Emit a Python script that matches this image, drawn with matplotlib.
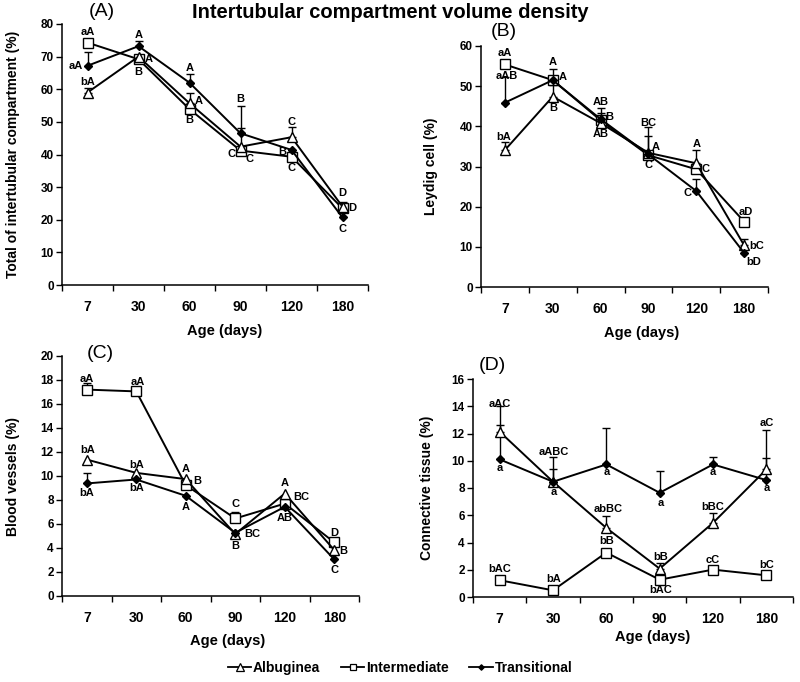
"""Intertubular compartment volume density: four panels, three testis regions."""

import matplotlib
matplotlib.use("Agg")
import matplotlib.pyplot as plt
import numpy as np
from matplotlib.lines import Line2D

plt.rcParams["font.family"] = ["Liberation Sans", "DejaVu Sans"]
plt.rcParams["font.weight"] = "bold"

AGES = ["7", "30", "60", "90", "120", "180"]
SERIES = ["Albuginea", "Intermediate", "Transitional"]

# (A) total of intertubular compartment (%)
A_ALB = [59.0, 70.0, 55.7, 42.4, 45.3, 24.0]
A_INT = [74.3, 69.2, 53.9, 41.2, 39.3, 23.5]
A_TRA = [67.2, 73.2, 62.0, 46.5, 41.4, 20.7]
A_ALB_ERR = [1.5, 0, 3.0, 5.6, 3.0, 1.5]
A_INT_ERR = [0, 0, 0, 0, 0, 0]
A_TRA_ERR = [4.1, 1.5, 2.7, 8.4, 0, 0]
A_LABELS = [
    (0, 77.4, "aA"), (-0.23, 67.2, "aA"), (0, 62.3, "bA"),
    (1, 76.6, "A"), (1.2, 69.2, "A"), (1, 65.4, "B"),
    (2, 66.4, "A"), (2.19, 56.5, "A"), (2, 50.6, "B"),
    (3, 56.9, "B"), (2.82, 40.3, "C"), (3.18, 38.5, "C"),
    (4, 50.1, "C"), (3.82, 40.7, "B"), (4, 35.8, "C"),
    (5, 28.1, "D"), (5.19, 23.5, "D"), (5, 17.1, "C"),
]

# (B) Leydig cell (%)
B_ALB = [34.1, 47.4, 40.8, 33.4, 30.8, 10.4]
B_INT = [55.4, 51.5, 41.5, 32.8, 29.3, 16.3]
B_TRA = [45.9, 51.5, 41.8, 33.0, 23.9, 8.5]
B_ALB_ERR = [2.1, 2.9, 2.6, 4.2, 3.3, 1.6]
B_INT_ERR = [0, 0, 0, 0, 0, 0]
B_TRA_ERR = [6.5, 2.7, 2.7, 6.9, 2.9, 0]
B_LABELS = [
    (0, 58.2, "aA"), (0.03, 52.5, "aAB"), (-0.03, 37.4, "bA"),
    (1, 56.1, "A"), (1.21, 52.2, "A"), (1.01, 44.5, "B"),
    (2, 46.1, "AB"), (2.19, 42.4, "B"), (2, 38.1, "AB"),
    (3, 40.9, "BC"), (3.16, 34.9, "A"), (3, 30.3, "C"),
    (4, 35.7, "A"), (4.2, 29.5, "C"), (3.82, 23.3, "C"),
    (5.03, 18.7, "aD"), (5.26, 10.1, "bC"), (5.21, 6.2, "bD"),
]

# (C) blood vessels (%)
C_ALB = [11.37, 10.26, 9.74, 5.16, 8.54, 3.83]
C_INT = [17.2, 17.05, 9.24, 6.46, 7.7, 4.47]
C_TRA = [9.38, 9.71, 8.35, 5.27, 7.43, 3.05]
C_ALB_ERR = [0, 0, 0, 0, 0, 0]
C_INT_ERR = [0.55, 0, 0, 0.55, 0, 0]
C_TRA_ERR = [0.9, 0, 0, 0, 0, 0]
C_LABELS = [
    (0.01, 18.1, "aA"), (0.01, 12.15, "bA"), (0, 8.6, "bA"),
    (1.04, 17.84, "aA"), (1.01, 10.9, "bA"), (1.0, 9.0, "bA"),
    (2, 10.6, "A"), (2.23, 9.6, "B"), (1.99, 7.43, "A"),
    (3, 7.7, "C"), (3.34, 5.16, "BC"), (3, 4.19, "B"),
    (4, 9.38, "A"), (4.33, 8.27, "BC"), (4, 6.46, "AB"),
    (5, 5.27, "D"), (5.18, 3.74, "B"), (5, 2.16, "C"),
]

# (D) connective tissue (%)
D_ALB = [12.13, 8.46, 5.07, 2.08, 5.44, 9.36]
D_INT = [1.23, 0.49, 3.26, 1.27, 2.01, 1.59]
D_TRA = [10.1, 8.46, 9.73, 7.65, 9.73, 8.58]
D_ALB_ERR = [1.9, 1.8, 0.9, 0.4, 0.75, 2.9]
D_INT_ERR = [0, 0, 0, 0, 0, 0]
D_TRA_ERR = [2.5, 0.95, 2.7, 1.6, 0.55, 1.6]
D_LABELS = [
    (0, 14.2, "aAC"), (0, 9.5, "a"), (0, 2.08, "bAC"),
    (1.01, 10.66, "aABC"), (1.01, 7.72, "a"), (1.01, 1.35, "bA"),
    (2.03, 6.45, "abBC"), (2.01, 9.19, "a"), (2.01, 4.12, "bB"),
    (3.02, 6.91, "a"), (3.02, 2.94, "bB"), (3.02, 0.49, "bAC"),
    (4, 9.19, "a"), (4, 6.57, "bBC"), (4, 2.75, "cC"),
    (5, 12.75, "aC"), (5, 7.97, "a"), (5, 2.33, "bC"),
]

STYLES = {
    "Albuginea": dict(marker="^", markersize=7.5, markerfacecolor="white", zorder=4),
    "Intermediate": dict(marker="s", markersize=7, markerfacecolor="white", zorder=3),
    "Transitional": dict(marker="D", markersize=4, markerfacecolor="black", zorder=5),
}


def draw_panel(ax, values, errs, labels, ymax, ystep, ylabel, tag, tag_xy,
               ylab_x, xlab_pos):
    x = np.arange(len(AGES))
    for name, y, err in zip(SERIES, values, errs):
        err = np.asarray(err, dtype=float)
        keep = err > 0
        if keep.any():
            ax.errorbar(x[keep], np.asarray(y)[keep],
                        yerr=[np.zeros(keep.sum()), err[keep]],
                        fmt="none", ecolor="black", elinewidth=1.0,
                        capsize=2.8, capthick=1.0, zorder=2)
        ax.plot(x, y, color="black", linewidth=1.4, markeredgecolor="black",
                markeredgewidth=1.0, **STYLES[name])

    for lx, ly, text in labels:
        ax.text(lx, ly, text, ha="center", va="center", fontsize=8,
                fontweight="bold", zorder=6)

    ax.set_xlim(-0.5, len(AGES) - 0.5)
    ax.set_ylim(0, ymax)
    ax.set_xticks(x)
    ax.set_xticklabels(AGES, fontsize=10, fontweight="bold")
    ax.set_xticks(np.arange(-0.5, len(AGES), 1.0), minor=True)
    ax.tick_params(axis="x", which="major", length=0, pad=11)
    ax.tick_params(axis="x", which="minor", length=4, width=1.0, direction="out")
    ax.set_yticks(np.arange(0, ymax + ystep / 2, ystep))
    ax.tick_params(axis="y", labelsize=8.5, length=4, width=1.0, pad=2)
    for lab in ax.get_yticklabels():
        lab.set_fontweight("bold")

    for side in ("top", "right"):
        ax.spines[side].set_visible(False)
    for side in ("left", "bottom"):
        ax.spines[side].set_linewidth(1.1)

    ax.set_ylabel(ylabel, fontsize=10, fontweight="bold")
    ax.yaxis.set_label_coords(ylab_x, 0.5)
    ax.set_xlabel("Age (days)", fontsize=10.5, fontweight="bold", va="top")
    ax.xaxis.set_label_coords(*xlab_pos)

    fig = ax.figure
    fig.text(tag_xy[0], tag_xy[1], tag, fontsize=14, fontweight="normal",
             ha="center", va="center")


def main() -> None:
    fig = plt.figure(figsize=(8, 6.82), dpi=100)
    W, H = 800, 682

    def rect(l, r, top, bottom):
        return [l / W, 1 - bottom / H, (r - l) / W, (bottom - top) / H]

    ax_a = fig.add_axes(rect(62, 368, 24, 285))
    ax_b = fig.add_axes(rect(481, 768, 46, 287))
    ax_c = fig.add_axes(rect(62, 359, 356, 596))
    ax_d = fig.add_axes(rect(473, 793, 379, 597))

    draw_panel(ax_a, [A_ALB, A_INT, A_TRA], [A_ALB_ERR, A_INT_ERR, A_TRA_ERR],
               A_LABELS, 80, 10, "Total of intertubular compartment (%)",
               "(A)", (102 / W, 1 - 12 / H), -0.137, (0.533, -0.15))
    draw_panel(ax_b, [B_ALB, B_INT, B_TRA], [B_ALB_ERR, B_INT_ERR, B_TRA_ERR],
               B_LABELS, 60, 10, "Leydig cell (%)",
               "(B)", (504 / W, 1 - 32 / H), -0.15, (0.56, -0.163))
    draw_panel(ax_c, [C_ALB, C_INT, C_TRA], [C_ALB_ERR, C_INT_ERR, C_TRA_ERR],
               C_LABELS, 20, 2, "Blood vessels (%)",
               "(C)", (100 / W, 1 - 353 / H), -0.141, (0.556, -0.16))
    draw_panel(ax_d, [D_ALB, D_INT, D_TRA], [D_ALB_ERR, D_INT_ERR, D_TRA_ERR],
               D_LABELS, 16, 2, "Connective tissue (%)",
               "(D)", (492 / W, 1 - 365 / H), -0.122, (0.56, -0.15))

    fig.text(390 / W, 1 - 13 / H, "Intertubular compartment volume density",
             fontsize=14.5, fontweight="bold", ha="center", va="center")

    handles = [
        Line2D([], [], color="black", linewidth=1.3, markeredgecolor="black",
               markeredgewidth=0.9,
               **{k: (v * 0.7 if k == "markersize" else v)
                  for k, v in STYLES[name].items() if k != "zorder"})
        for name in SERIES
    ]
    fig.legend(handles, SERIES, loc="center", bbox_to_anchor=(0.5, 1 - 668 / H),
               ncol=3, frameon=False, handlelength=1.7,
               handletextpad=0.1, columnspacing=1.5,
               prop={"weight": "bold", "size": 10})

    fig.savefig("out.png", dpi=100)
    plt.close(fig)


if __name__ == "__main__":
    main()
